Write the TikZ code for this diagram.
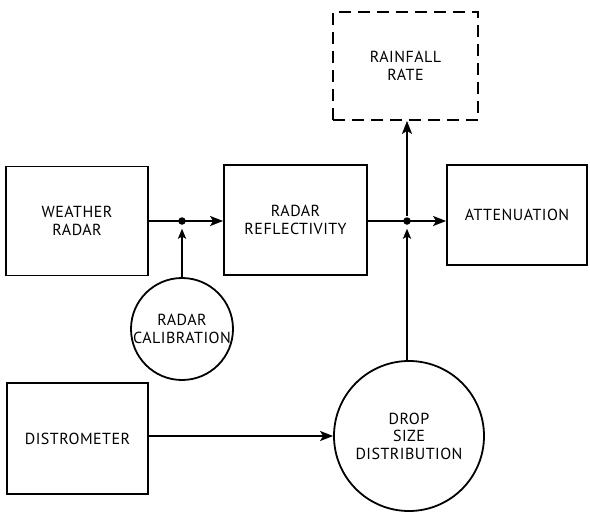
\documentclass[tikz,border=0pt]{standalone}
\usepackage{fontspec}
\setmainfont[LetterSpace=3]{PT Sans}
\usetikzlibrary{arrows.meta}
\begin{document}
\begin{tikzpicture}[x=1pt,y=-1pt,
  line width=1.8pt,
  every node/.style={font=\fontsize{16}{17.5}\selectfont, align=center, inner sep=0pt},
  box/.style 2 args={draw, rectangle, minimum width=#1, minimum height=#2},
  dashbox/.style 2 args={draw, rectangle, dash pattern=on 12pt off 7pt, minimum width=#1, minimum height=#2},
  disc/.style={draw, circle, minimum size=#1},
  flow/.style={-{Stealth[length=13pt,width=10pt,inset=3pt]}},
  feed/.style={-{Stealth[length=10pt,width=8pt,inset=2pt]}, shorten >=3pt},
  junction/.style={fill, circle, minimum size=7.5pt}]
\useasboundingbox (0,0) rectangle (590,517);

% blocks
\node[box={142pt}{109pt}] (wr) at (77,221) {WEATHER\\RADAR};
\node[box={143pt}{110pt}] (refl) at (295.5,220) {RADAR\\REFLECTIVITY};
\node[box={140pt}{100pt}] (att) at (517,215) {ATTENUATION};
\node[dashbox={145pt}{108pt}] (rain) at (405.5,66) {RAINFALL\\RATE};
\node[box={141pt}{111pt}] (dist) at (77.5,438.5) {DISTROMETER};
\node[disc=102pt] (cal) at (182,329) {RADAR\\CALIBRATION};
\node[disc=150pt] (dsd) at (409,436) {DROP\\SIZE\\DISTRIBUTION};

% branch points on the main signal line
\node[junction] (jL) at (182,221) {};
\node[junction] (jR) at (407,221) {};

% connectors
\draw[flow] (jL -| wr.east) -- (jL -| refl.west);
\draw[feed] (cal.north) -- (jL);
\draw[flow] (jR -| refl.east) -- (jR -| att.west);
\draw[flow] (jR) -- (jR |- rain.south);
\draw[feed] (jR |- dsd.north) -- (jR);
\draw[flow] (dist.east |- dsd.west) -- (dsd.west);
\end{tikzpicture}
\end{document}
